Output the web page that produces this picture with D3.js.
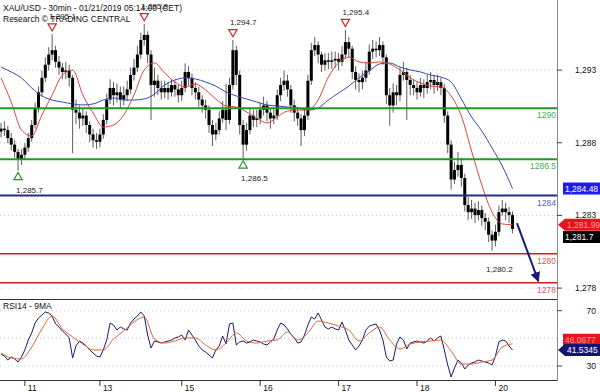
<!DOCTYPE html>
<html lang="en">
<head>
<meta charset="UTF-8">
<title>XAU/USD 30min</title>
<script src="https://d3js.org/d3.v7.min.js"></script>
<style>
  body, html { margin: 0; padding: 0; background: #fff; }
  svg { display: block; font-family: "Liberation Sans", Arial, sans-serif; }
</style>
</head>
<body>
<div id="chart"></div>
<script>
// hourly candles, index 0 = late Jan 10 session
const firstOpen = 1288.4;
const closes = [
  1288.6,1288.5,1287.95,1287.5,1287.0,1286.45,1286.8,
  1287.3,1287.95,1288.85,1290.0,1291.1,1292.1,1293.0,1293.7,1294.0,1293.2,1292.8,1292.5,1292.6,1292.1,1289.9,1289.7,1289.3,1289.5,1288.85,1288.2,1287.8,1287.7,
  1288.2,1289.2,1290.6,1291.4,1290.9,1291.1,1290.6,1290.9,1291.3,1292.3,1292.8,1293.7,1294.7,1295.05,1293.7,1291.6,1291.9,1291.4,1291.1,1291.4,1291.1,1291.6,1291.3,1290.9,
  1291.4,1292.5,1292.1,1291.4,1291.1,1290.6,1290.2,1289.9,1288.85,1288.2,1288.5,1289.3,1289.9,1289.2,1291.6,1294.0,1292.3,1288.85,1287.5,1288.5,1289.5,1289.2,1289.3,
  1289.9,1290.2,1289.7,1289.3,1289.5,1290.9,1291.6,1291.9,1291.3,1290.2,1289.7,1289.3,1288.5,1289.5,1291.9,1294.0,1294.35,1293.7,1293.0,1293.3,1293.2,1293.3,1293.4,
  1293.2,1293.7,1294.55,1294.1,1292.5,1291.95,1291.8,1292.1,1292.6,1293.9,1294.1,1294.0,1294.35,1293.5,1290.9,1290.2,1291.1,1290.9,1292.3,1292.5,1291.95,1291.6,1291.4,
  1291.1,1291.6,1291.4,1291.8,1291.95,1291.6,1291.8,1291.4,1289.5,1287.5,1285.1,1285.75,1286.1,1285.2,1283.35,1282.85,1283.1,1282.65,1283.0,1282.45,1282.2,1281.3,1280.9,
  1281.5,1282.85,1283.1,1282.85,1282.65,1281.7
];
const highs = [
  1289.0,1289.1,1288.8,1288.3,1287.8,1287.2,1287.2,
  1287.6,1288.3,1289.2,1290.4,1291.5,1292.6,1293.5,1294.2,1295.1,1294.3,1293.6,1293.1,1293.2,1293.0,1292.3,1290.6,1290.2,1290.0,1289.8,1289.1,1288.6,1288.3,
  1288.6,1289.6,1291.0,1292.0,1291.8,1291.7,1291.5,1291.5,1291.9,1292.8,1293.4,1294.3,1295.2,1295.8,1295.3,1294.0,1292.8,1292.3,1291.9,1291.9,1291.8,1292.0,1291.9,1291.6,
  1291.9,1293.1,1292.9,1292.4,1291.8,1291.5,1290.9,1290.6,1290.2,1289.2,1289.0,1289.8,1290.5,1291.7,1292.1,1294.7,1294.3,1292.6,1289.2,1289.0,1290.0,1289.9,1289.9,
  1290.4,1290.8,1290.5,1290.0,1290.0,1291.3,1292.1,1292.6,1292.3,1291.6,1290.6,1290.1,1289.6,1290.0,1292.3,1294.5,1294.9,1294.6,1293.9,1293.8,1293.8,1293.9,1293.9,
  1293.8,1294.3,1295.4,1294.9,1294.3,1292.9,1292.4,1292.6,1293.2,1294.4,1294.7,1294.6,1294.9,1294.6,1293.7,1291.4,1291.7,1291.6,1292.8,1293.2,1292.8,1292.3,1292.0,
  1291.8,1292.1,1292.0,1292.3,1292.5,1292.3,1292.3,1292.1,1291.7,1289.8,1287.8,1286.3,1287.0,1286.6,1285.5,1283.9,1283.7,1283.5,1283.6,1283.3,1282.8,1282.5,1281.6,
  1282.0,1283.3,1283.7,1283.5,1283.2,1282.9
];
const lows = [
  1288.0,1288.1,1287.6,1287.1,1286.6,1285.7,1286.1,
  1286.5,1287.0,1287.7,1288.6,1289.7,1290.8,1291.8,1292.6,1293.3,1292.8,1292.3,1292.0,1292.0,1291.5,1286.9,1288.9,1288.6,1288.8,1288.3,1287.7,1287.3,1287.2,
  1287.3,1287.9,1288.9,1290.3,1290.2,1290.4,1290.0,1290.2,1290.5,1291.0,1291.9,1292.5,1293.4,1294.3,1293.1,1289.2,1290.8,1290.9,1290.6,1290.7,1290.6,1290.8,1290.8,1290.4,
  1290.5,1291.1,1291.6,1290.9,1290.6,1290.1,1289.7,1289.3,1288.3,1287.4,1287.8,1288.2,1289.0,1288.5,1288.9,1291.3,1291.6,1288.2,1286.5,1287.1,1288.2,1288.7,1288.7,
  1288.9,1289.5,1289.1,1288.6,1288.9,1289.2,1290.5,1291.2,1290.8,1289.7,1289.1,1288.8,1287.4,1288.1,1289.2,1291.6,1293.6,1293.1,1292.5,1292.6,1292.7,1292.7,1292.8,
  1292.6,1292.9,1293.4,1293.5,1292.0,1291.3,1291.1,1291.3,1291.8,1292.3,1293.4,1293.5,1293.6,1293.0,1290.3,1288.8,1289.7,1290.2,1290.5,1291.9,1289.2,1290.9,1290.9,
  1290.6,1290.8,1290.7,1291.0,1291.3,1291.0,1291.2,1290.9,1289.0,1286.9,1284.4,1284.8,1285.3,1284.6,1282.9,1282.3,1282.4,1282.1,1282.3,1281.9,1281.6,1280.8,1280.2,
  1280.5,1281.2,1282.6,1282.3,1282.1,1281.4
];

// moving averages, one value every 3 candles
const maStep = 3;
const maRed = [1292.09,1290.43,1288.51,1288.09,1289.54,1290.92,1292.29,1292.64,1290.92,1289.68,
  1288.71,1288.85,1289.54,1290.92,1292.64,1293.12,1292.43,1291.81,1291.47,1291.67,
  1291.26,1290.64,1290.16,1290.09,1289.75,1289.33,1288.99,1289.40,1289.81,1289.88,
  1289.88,1290.57,1292.15,1293.12,1293.53,1293.19,1293.12,1293.19,1293.05,1292.64,
  1292.09,1291.74,1291.53,1291.47,1290.85,1289.47,1287.06,1284.72,1282.86,1282.04,1281.99];
const maBlue = [1292.84,1292.50,1292.09,1291.40,1290.85,1290.57,1290.43,1290.30,1290.23,1290.30,
  1290.57,1290.71,1290.57,1290.57,1290.64,1290.98,1291.60,1291.95,1292.09,1292.02,
  1291.81,1291.53,1291.12,1290.85,1290.64,1290.43,1290.23,1290.16,1290.09,1290.02,
  1289.88,1290.02,1290.57,1291.05,1291.53,1292.09,1292.57,1293.05,1293.12,1292.84,
  1292.64,1292.50,1292.29,1292.15,1291.81,1290.64,1289.40,1288.44,1287.27,1286.03,1284.48];

// RSI14 per candle, and its 9MA every 3 candles
const rsi = [
  38.7,37.2,34.3,36.5,35.1,32.9,36.5,
  41.6,48.8,53.9,61.1,64.7,66.9,69.1,68.3,66.2,60.4,58.2,55.3,53.1,50.3,35.8,44.5,48.1,46.6,44.5,41.6,39.4,37.2,
  36.5,41.6,48.8,61.1,59.7,56.0,58.2,56.8,56.0,61.1,64.0,66.2,69.1,66.2,52.4,43.0,48.1,47.4,46.6,47.4,48.1,48.8,50.3,51.0,
  52.4,48.8,56.0,52.4,48.8,44.5,41.6,40.1,38.0,35.8,41.6,44.5,51.7,45.9,60.4,61.1,45.2,47.4,48.1,46.6,47.4,48.8,48.1,
  47.4,45.9,45.2,47.4,49.5,56.0,61.1,59.7,56.8,53.1,50.3,46.6,47.4,52.4,59.7,65.4,64.0,68.3,63.3,58.2,56.8,58.2,56.8,
  56.0,61.8,56.0,48.8,45.2,41.6,44.5,48.8,56.0,58.9,59.7,60.4,56.0,48.8,36.5,33.6,34.3,45.9,51.0,48.8,42.3,46.6,47.4,
  48.1,47.4,46.6,48.1,50.3,48.1,50.3,51.7,41.6,30.7,22.0,28.6,34.3,32.2,27.8,30.7,32.2,32.9,34.3,33.6,32.9,32.2,30.7,
  37.2,47.4,48.8,48.1,44.5,41.5345
];
const rsiMa = [39.4,35.8,35.1,43.7,56.8,66.2,56.8,51.0,45.9,41.6,
  41.6,49.5,55.3,61.8,65.4,49.5,46.6,48.1,50.3,50.3,
  45.2,41.6,46.6,53.9,48.1,46.6,48.1,48.8,54.6,48.8,
  53.9,62.5,61.1,58.9,56.0,48.1,53.9,58.2,48.8,42.3,
  45.9,47.4,48.1,48.8,40.8,31.4,31.4,32.9,34.3,43.7,46.0677];

const levelValues = [1290, 1286.5, 1284, 1280, 1278];
const levelKinds = ["res", "res", "pivot", "sup", "sup"];
const priceTicks = [1293, 1288, 1283, 1278];
const rsiTicks = [70, 50, 30];
const dayIdx = [7, 29, 53, 76, 99, 122, 145];
const dayLabels = ["11", "13", "15", "16", "17", "18", "20"];
const peakIdx = [15, 42, 68, 101];
const troughIdx = [5, 71];
const lastLowIdx = 144;
const arrowFrom = [151.3, 1282.1];
const arrowTo = [157.6, 1278.1];

const W = 600, H = 392, plotRight = 557;
const svg = d3.select("#chart").append("svg").attr("width", W).attr("height", H);

const x = d3.scaleLinear().domain([0, 150]).range([1, 512.5]);
const y = d3.scaleLinear().domain([1278, 1290]).range([282.7, 108.3]);
const yR = d3.scaleLinear().domain([30, 70]).range([366, 310.7]);
const tickNudge = 5.4; // the price grid sits a little below the level lines in the original
const fmt = d3.format(",.1f");

const levelColor = {res: "#1f9a1f", pivot: "#2a2a8a", sup: "#d01c1c"};
const levelText = {res: "#4fa84f", pivot: "#5a5ab8", sup: "#d95a5a"};

const defs = svg.append("defs");
defs.append("clipPath").attr("id", "mainClip").append("rect")
  .attr("x", 0).attr("y", 0).attr("width", plotRight).attr("height", 298);
defs.append("clipPath").attr("id", "rsiClip").append("rect")
  .attr("x", 0).attr("y", 300).attr("width", plotRight).attr("height", 80);
defs.append("marker").attr("id", "arrowHead")
  .attr("viewBox", "0 0 10 10").attr("refX", 9).attr("refY", 5)
  .attr("markerWidth", 5).attr("markerHeight", 5).attr("orient", "auto")
  .append("path").attr("d", "M0,0L10,5L0,10Z").attr("fill", "#1a1a78");

// ---- main panel ----
const main = svg.append("g").attr("clip-path", "url(#mainClip)");

main.selectAll(".grid").data(priceTicks).join("line")
  .attr("x1", 0).attr("x2", plotRight)
  .attr("y1", d => y(d) + tickNudge).attr("y2", d => y(d) + tickNudge)
  .attr("stroke", "#c8c8c8").attr("stroke-dasharray", "1,3");

const candles = closes.map((c, i) => ({i, o: i ? closes[i - 1] : firstOpen, h: highs[i], l: lows[i], c}));

main.selectAll(".wick").data(candles).join("line")
  .attr("x1", d => x(d.i)).attr("x2", d => x(d.i))
  .attr("y1", d => y(d.h)).attr("y2", d => y(d.l))
  .attr("stroke", "#5e5e5e").attr("stroke-width", 1);

main.selectAll(".body").data(candles).join("rect")
  .attr("x", d => x(d.i) - 1.5).attr("width", 3)
  .attr("y", d => y(Math.max(d.o, d.c)))
  .attr("height", d => Math.max(1.5, Math.abs(y(d.o) - y(d.c))))
  .attr("fill", "#000");

const maLine = d3.line().x((d, k) => x(k * maStep)).y(d => y(d)).curve(d3.curveMonotoneX);
main.append("path").attr("d", maLine(maBlue)).attr("fill", "none").attr("stroke", "#3848a8").attr("stroke-width", 1);
main.append("path").attr("d", maLine(maRed)).attr("fill", "none").attr("stroke", "#d9463e").attr("stroke-width", 1);

levelValues.forEach((v, k) => {
  const kind = levelKinds[k];
  main.append("line").attr("x1", 0).attr("x2", plotRight)
    .attr("y1", y(v)).attr("y2", y(v))
    .attr("stroke", levelColor[kind]).attr("stroke-width", kind === "sup" ? 1.5 : 2);
  main.append("text").attr("x", plotRight - 1).attr("y", y(v) + 10)
    .attr("text-anchor", "end").attr("font-size", 8.5).attr("fill", levelText[kind])
    .text(v);
});

// swing markers
const tri = d3.symbol(d3.symbolTriangle, 30);
peakIdx.forEach(i => {
  main.append("path").attr("d", tri())
    .attr("transform", `translate(${x(i)},${y(highs[i]) - 8}) rotate(180)`)
    .attr("fill", "#fff").attr("stroke", "#cc2a2a").attr("stroke-width", 1.2);
  main.append("text").attr("x", x(i) - 3).attr("y", y(highs[i]) - 15)
    .attr("font-size", 8).attr("fill", "#222").text(fmt(highs[i]));
});
troughIdx.forEach(i => {
  main.append("path").attr("d", tri())
    .attr("transform", `translate(${x(i)},${y(lows[i]) + 6.5})`)
    .attr("fill", "#fff").attr("stroke", "#2f8f2f").attr("stroke-width", 1.2);
  main.append("text").attr("x", x(i) - 2).attr("y", y(lows[i]) + 22)
    .attr("font-size", 8).attr("fill", "#222").text(fmt(lows[i]));
});
main.append("text").attr("x", x(lastLowIdx) - 6).attr("y", y(lows[lastLowIdx]) + 21)
  .attr("font-size", 8).attr("fill", "#222").text(fmt(lows[lastLowIdx]));

main.append("line")
  .attr("x1", x(arrowFrom[0])).attr("y1", y(arrowFrom[1]))
  .attr("x2", x(arrowTo[0])).attr("y2", y(arrowTo[1]))
  .attr("stroke", "#1a1a78").attr("stroke-width", 2).attr("marker-end", "url(#arrowHead)");

// titles
svg.append("text").attr("x", 3).attr("y", 11).attr("font-size", 8.5).attr("fill", "#111")
  .text("XAU/USD - 30min - 01/21/2019 05:14:00 (CET)");
svg.append("text").attr("x", 3).attr("y", 22).attr("font-size", 8.5).attr("fill", "#111")
  .text("Research \u00A9 TRADING CENTRAL");

// price axis
svg.append("line").attr("x1", plotRight + 0.5).attr("x2", plotRight + 0.5)
  .attr("y1", 0).attr("y2", 381).attr("stroke", "#8a8a8a");
priceTicks.forEach(v => {
  svg.append("line").attr("x1", plotRight).attr("x2", plotRight + 5)
    .attr("y1", y(v) + tickNudge).attr("y2", y(v) + tickNudge).attr("stroke", "#444");
  svg.append("text").attr("x", 575).attr("y", y(v) + tickNudge + 3)
    .attr("font-size", 8.5).attr("fill", "#111").text(d3.format(",")(v));
});

// last-value tags
function tag(yc, text, bg, fg, pointed) {
  const g = svg.append("g");
  const left = pointed ? 565 : 563;
  const pts = pointed
    ? [[plotRight + 1, yc], [left, yc - 6], [W, yc - 6], [W, yc + 6], [left, yc + 6]]
    : [[left, yc - 6], [W, yc - 6], [W, yc + 6], [left, yc + 6]];
  g.append("polygon").attr("points", pts.map(p => p.join(",")).join(" ")).attr("fill", bg);
  g.append("text").attr("x", left + 2).attr("y", yc + 3).attr("font-size", 8.5)
    .attr("fill", fg).text(text);
}
tag(y(maBlue[maBlue.length - 1]), d3.format(",.2f")(maBlue[maBlue.length - 1]), "#1c1cf0", "#fff", false);
tag(y(maRed[maRed.length - 1]), d3.format(",.2f")(maRed[maRed.length - 1]), "#e3151a", "#ff9c9c", true);
tag(y(closes[closes.length - 1]) + 8, fmt(closes[closes.length - 1]), "#000", "#fff", false);

// ---- RSI panel ----
svg.append("line").attr("x1", 0).attr("x2", plotRight).attr("y1", 299.5).attr("y2", 299.5).attr("stroke", "#333");
svg.append("line").attr("x1", 0).attr("x2", plotRight).attr("y1", 380.5).attr("y2", 380.5).attr("stroke", "#333");
const rsiG = svg.append("g").attr("clip-path", "url(#rsiClip)");
rsiG.selectAll(".rgrid").data(rsiTicks).join("line")
  .attr("x1", 0).attr("x2", plotRight)
  .attr("y1", d => yR(d)).attr("y2", d => yR(d))
  .attr("stroke", "#c8c8c8").attr("stroke-dasharray", "1,3");
rsiG.append("path")
  .attr("d", d3.line().x((d, i) => x(i)).y(d => yR(d))(rsi))
  .attr("fill", "none").attr("stroke", "#1b1b6b").attr("stroke-width", 1);
rsiG.append("path")
  .attr("d", d3.line().x((d, k) => x(k * maStep)).y(d => yR(d)).curve(d3.curveMonotoneX)(rsiMa))
  .attr("fill", "none").attr("stroke", "#d9663a").attr("stroke-width", 1);
svg.append("text").attr("x", 3).attr("y", 309).attr("font-size", 8.5).attr("fill", "#111").text("RSI14 - 9MA");

rsiTicks.filter(v => v !== 50).forEach(v => {
  svg.append("line").attr("x1", plotRight).attr("x2", plotRight + 5)
    .attr("y1", yR(v)).attr("y2", yR(v)).attr("stroke", "#444");
  svg.append("text").attr("x", 596).attr("y", yR(v) + 3).attr("text-anchor", "end")
    .attr("font-size", 8.5).attr("fill", "#111").text(v);
});
tag(yR(rsiMa[rsiMa.length - 1]) - 4, rsiMa[rsiMa.length - 1], "#e3151a", "#ff9c9c", false);
tag(yR(rsi[rsi.length - 1]), rsi[rsi.length - 1], "#14146e", "#fff", true);

// time axis
dayIdx.forEach((i, k) => {
  svg.append("line").attr("x1", x(i)).attr("x2", x(i)).attr("y1", 380.5).attr("y2", 386)
    .attr("stroke", "#333");
  svg.append("text").attr("x", x(i) + 3).attr("y", 391).attr("font-size", 8.5)
    .attr("fill", "#111").text(dayLabels[k]);
});
</script>
</body>
</html>
